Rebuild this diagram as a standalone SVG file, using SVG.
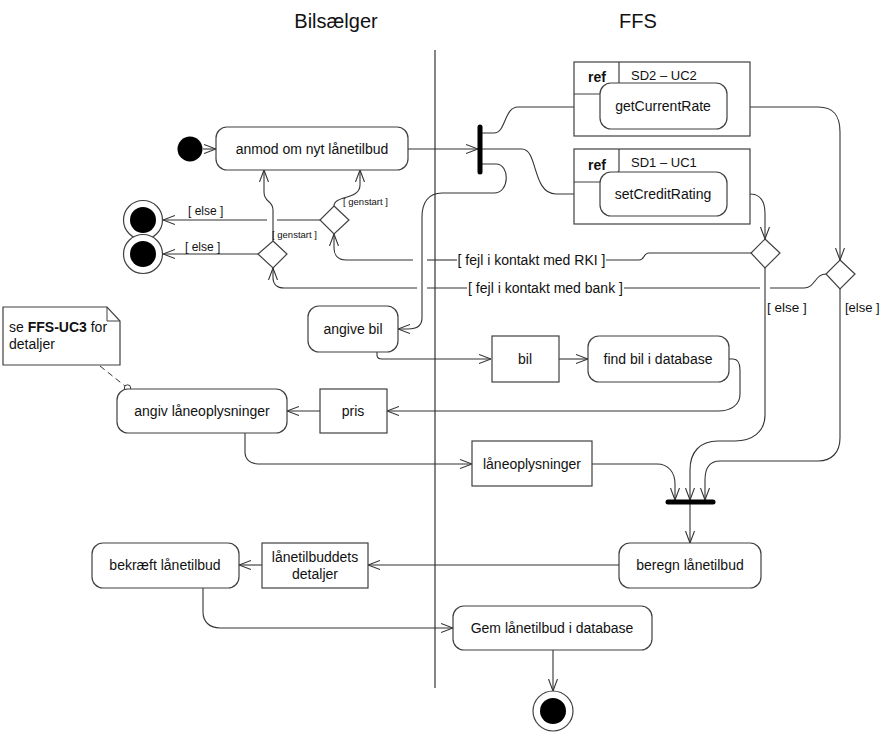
<svg xmlns="http://www.w3.org/2000/svg" width="889" height="732" viewBox="0 0 889 732">
<style>
text{font-family:"Liberation Sans",Arial,sans-serif;fill:#111;}
.t{font-size:14px;text-anchor:middle;}
.g{font-size:14px;}
.s{font-size:9.5px;}
.e{font-size:12px;}
.title{font-size:20px;text-anchor:middle;}
.node{fill:#fff;stroke:#404040;stroke-width:1.2;}
.frame{fill:#fff;stroke:#404040;stroke-width:1.2;}
.c{fill:none;stroke:#333;stroke-width:1.1;}
.ca{fill:none;stroke:#333;stroke-width:1.1;marker-end:url(#arr);}
.bar{stroke:#000;stroke-width:5;stroke-linecap:round;}
</style>
<defs>
<marker id="arr" viewBox="0 0 12 10" refX="12" refY="5" markerWidth="12" markerHeight="10" markerUnits="userSpaceOnUse" orient="auto">
<path d="M0,0.5 L12,5 L0,9.5" fill="none" stroke="#333" stroke-width="1.1"/>
</marker>
</defs>
<rect width="889" height="732" fill="#fff"/>

<g id="lanes">
<text class="title" x="336" y="28">Bilsælger</text>
<text class="title" x="638" y="28">FFS</text>
<line x1="435" y1="50" x2="435" y2="688" stroke="#333" stroke-width="1.2"/>
</g>

<g id="connectors">
<path class="ca" d="M203,149 H216"/>
<path class="ca" d="M408,149 H478"/>
<path class="ca" d="M482,133 H494 C506,133 504,107 518,107 H600"/>
<path class="ca" d="M482,149 H522 C538,149 532,194 556,194 H600"/>
<path class="ca" d="M482,164 H496 C510,164 510,193 494,193 H442 C428,193 422,203 422,217 V318 C422,326 416,329 408,329 H398"/>
<path class="ca" d="M727,107 H818 C834,107 840,116 840,132 V260"/>
<path class="ca" d="M727,194 H750 C761,194 765,202 765,214 V239"/>
<path class="c" d="M751,253 H649 C643,253 645,260 639,260 H606"/>
<path class="c" d="M457,260 H427"/>
<path class="ca" d="M413,260 H346 C338,260 334,255 334,248 V234"/>
<path class="c" d="M826,274 C815,274 815,288 804,288 H770"/>
<path class="c" d="M760,288 H624"/>
<path class="c" d="M467,288 H427"/>
<path class="ca" d="M417,288 H284 C277,288 273,284 273,278 V268"/>
<path class="ca" d="M334,206 C334,195 360,200 360,185 V170"/>
<path class="c" d="M320,220 H277"/>
<path class="ca" d="M267,220 H163"/>
<path class="ca" d="M258,254 H163"/>
<path class="ca" d="M273,241 V210 C273,200 264,203 264,192 V170"/>
<path class="ca" d="M765,268 V415 C765,432 752,441 735,441 H718 C700,441 690,452 690,470 V500"/>
<path class="ca" d="M840,289 V438 C840,452 832,461 818,461 H720 C710,461 705,468 705,480 V500"/>
<path class="ca" d="M592,464 H657 C668,464 675,472 675,484 V500"/>
<path class="ca" d="M690,503 V543"/>
<path class="ca" d="M619,565 H368"/>
<path class="ca" d="M262,565 H239"/>
<path class="ca" d="M203,588 V612 C203,622 210,628 220,628 H453"/>
<path class="ca" d="M553,650 V691"/>
<path class="ca" d="M377,352 V355 Q377,359 382,359 H491"/>
<path class="ca" d="M559,359 H588"/>
<path class="ca" d="M729,359 H733 C738,359 740,364 740,370 V394 C740,405 731,411 718,411 H387"/>
<path class="ca" d="M320,411 H287"/>
<path class="ca" d="M245,433 V452 C245,459 250,464 258,464 H472"/>
<path d="M100,366 L125,386" fill="none" stroke="#333" stroke-width="1" stroke-dasharray="6,4"/>
<circle cx="127.5" cy="388" r="3.2" fill="#fff" stroke="#333" stroke-width="1"/>
<text class="g" x="531.5" y="265" text-anchor="middle">[ fejl i kontakt med RKI ]</text>
<text class="g" x="545.5" y="293" text-anchor="middle">[ fejl i kontakt med bank ]</text>
<text class="s" x="343" y="205">[ genstart ]</text>
<text class="s" x="272" y="238">[ genstart ]</text>
<text class="e" x="188" y="215">[ else ]</text>
<text class="e" x="185" y="251">[ else ]</text>
<text x="767" y="312" font-size="13.5">[ else ]</text>
<text x="845" y="312" font-size="13">[else ]</text>
</g>

<g id="initial"><circle cx="190" cy="149" r="12.5" fill="#000"/></g>
<g id="anmod"><rect class="node" x="216" y="127" width="192" height="43" rx="11"/><text class="t" x="312" y="154">anmod om nyt lånetilbud</text></g>
<g id="fork"><line class="bar" x1="480" y1="127" x2="480" y2="172"/></g>

<g id="ref-sd2">
<rect class="frame" x="574" y="62" width="176" height="74"/>
<path d="M574,94 H610 L619,84 V62" fill="none" stroke="#404040" stroke-width="1.2"/>
<text x="588" y="82" font-size="14" font-weight="bold">ref</text>
<text x="631" y="80" font-size="13">SD2 – UC2</text>
<g id="getCurrentRate"><rect class="node" x="600" y="83" width="127" height="46" rx="11"/><text class="t" x="663" y="111">getCurrentRate</text></g>
</g>
<g id="ref-sd1">
<rect class="frame" x="574" y="149" width="176" height="75"/>
<path d="M574,182 H610 L619,171 V149" fill="none" stroke="#404040" stroke-width="1.2"/>
<text x="588" y="170" font-size="14" font-weight="bold">ref</text>
<text x="631" y="167" font-size="13">SD1 – UC1</text>
<g id="setCreditRating"><rect class="node" x="600" y="172" width="127" height="44" rx="11"/><text class="t" x="663" y="199">setCreditRating</text></g>
</g>

<g id="dec-rki"><polygon class="node" points="765,239 780,253 765,268 751,253"/></g>
<g id="dec-bank"><polygon class="node" points="840,260 855,274 840,289 826,274"/></g>
<g id="dec-genstart1"><polygon class="node" points="334,206 349,220 334,234 320,220"/></g>
<g id="dec-genstart2"><polygon class="node" points="273,241 287,254 273,268 258,254"/></g>

<g id="end1"><circle cx="143" cy="220" r="19.5" fill="#fff" stroke="#404040" stroke-width="1.2"/><circle cx="143" cy="220" r="13" fill="#000"/></g>
<g id="end2"><circle cx="143" cy="254" r="19.5" fill="#fff" stroke="#404040" stroke-width="1.2"/><circle cx="143" cy="254" r="13" fill="#000"/></g>

<g id="angive-bil"><rect class="node" x="308" y="306" width="90" height="46" rx="11"/><text class="t" x="353" y="334">angive bil</text></g>
<g id="bil"><rect class="node" x="492" y="336" width="67" height="46"/><text class="t" x="525" y="364">bil</text></g>
<g id="find-bil"><rect class="node" x="588" y="336" width="141" height="46" rx="11"/><text class="t" x="658" y="364">find bil i database</text></g>
<g id="note">
<path d="M3,307 H107 L120,321 V365 H3 Z" fill="#fff" stroke="#404040" stroke-width="1.2"/>
<path d="M107,307 V321 H120" fill="none" stroke="#404040" stroke-width="1"/>
<text x="9" y="332" font-size="14">se <tspan font-weight="bold">FFS-UC3</tspan> for</text>
<text x="9" y="349" font-size="14">detaljer</text>
</g>
<g id="pris"><rect class="node" x="320" y="389" width="67" height="44"/><text class="t" x="353" y="416">pris</text></g>
<g id="angiv"><rect class="node" x="117" y="389" width="170" height="44" rx="11"/><text class="t" x="202" y="416">angiv låneoplysninger</text></g>
<g id="laneoplysninger"><rect class="node" x="472" y="441" width="120" height="45"/><text class="t" x="532" y="469">låneoplysninger</text></g>
<g id="join"><line class="bar" x1="668" y1="502" x2="713" y2="502"/></g>
<g id="beregn"><rect class="node" x="619" y="543" width="142" height="45" rx="11"/><text class="t" x="690" y="570">beregn lånetilbud</text></g>
<g id="detaljer"><rect class="node" x="262" y="543" width="106" height="45"/><text class="t" x="315" y="562">lånetilbuddets</text><text class="t" x="315" y="579">detaljer</text></g>
<g id="bekraeft"><rect class="node" x="92" y="543" width="147" height="45" rx="11"/><text class="t" x="165" y="570">bekræft lånetilbud</text></g>
<g id="gem"><rect class="node" x="453" y="606" width="199" height="44" rx="11"/><text class="t" x="552" y="633">Gem lånetilbud i database</text></g>
<g id="final"><circle cx="553" cy="711" r="20" fill="#fff" stroke="#404040" stroke-width="1.2"/><circle cx="553" cy="711" r="13" fill="#000"/></g>
</svg>
